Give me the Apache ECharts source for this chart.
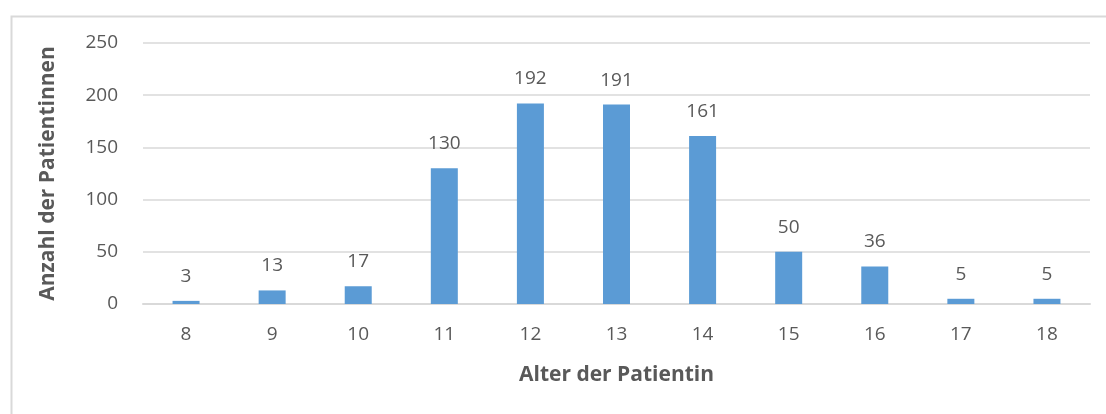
<!DOCTYPE html>
<html>
<head>
<meta charset="utf-8">
<script src="https://cdn.jsdelivr.net/npm/echarts@6/dist/echarts.min.js"></script>
<style>
  html, body { margin: 0; padding: 0; background: #ffffff; }
  #chart { width: 1106px; height: 414px; }
</style>
</head>
<body>
<div id="chart"></div>
<script>
// Altersverteilung der Patientinnen
const ages = ['8', '9', '10', '11', '12', '13', '14', '15', '16', '17', '18'];
const counts = [3, 13, 17, 130, 192, 191, 161, 50, 36, 5, 5];
const yTicks = [0, 50, 100, 150, 200, 250];

const textColor = '#595959';
const fontFamily = '"Open Sans", "DejaVu Sans", sans-serif';

const chart = echarts.init(document.getElementById('chart'), null, { renderer: 'canvas' });

chart.setOption({
  animation: false,
  backgroundColor: '#ffffff',
  graphic: [{
    type: 'rect',
    left: 9, top: 14,
    shape: { width: 1120, height: 430 },
    style: { fill: 'none', stroke: '#d9d9d9', lineWidth: 2 },
    silent: true
  }],
  grid: { left: 143, right: 16, top: 43, bottom: 110 },
  xAxis: {
    type: 'category',
    data: ages,
    name: 'Alter der Patientin',
    nameLocation: 'middle',
    nameGap: 61,
    nameTextStyle: { color: textColor, fontSize: 21, fontWeight: 'bold', fontFamily },
    axisLine: { lineStyle: { color: '#d9d9d9', width: 2 } },
    axisTick: { show: false },
    axisLabel: { color: textColor, fontSize: 19, fontFamily, margin: 21 }
  },
  yAxis: {
    type: 'value',
    min: yTicks[0],
    max: yTicks[yTicks.length - 1],
    interval: 50,
    name: 'Anzahl der Patientinnen',
    nameLocation: 'middle',
    nameGap: 84,
    nameTextStyle: { color: textColor, fontSize: 21, fontWeight: 'bold', fontFamily },
    axisLine: { show: false },
    axisTick: { show: false },
    axisLabel: { color: textColor, fontSize: 19, fontFamily, margin: 25 },
    splitLine: { lineStyle: { color: '#d9d9d9', width: 1.5 } }
  },
  series: [{
    type: 'bar',
    data: counts,
    barWidth: 27,
    itemStyle: { color: '#5b9bd5' },
    label: {
      show: true,
      position: 'top',
      distance: 15,
      color: textColor,
      fontSize: 19,
      fontFamily
    }
  }]
});
</script>
</body>
</html>
